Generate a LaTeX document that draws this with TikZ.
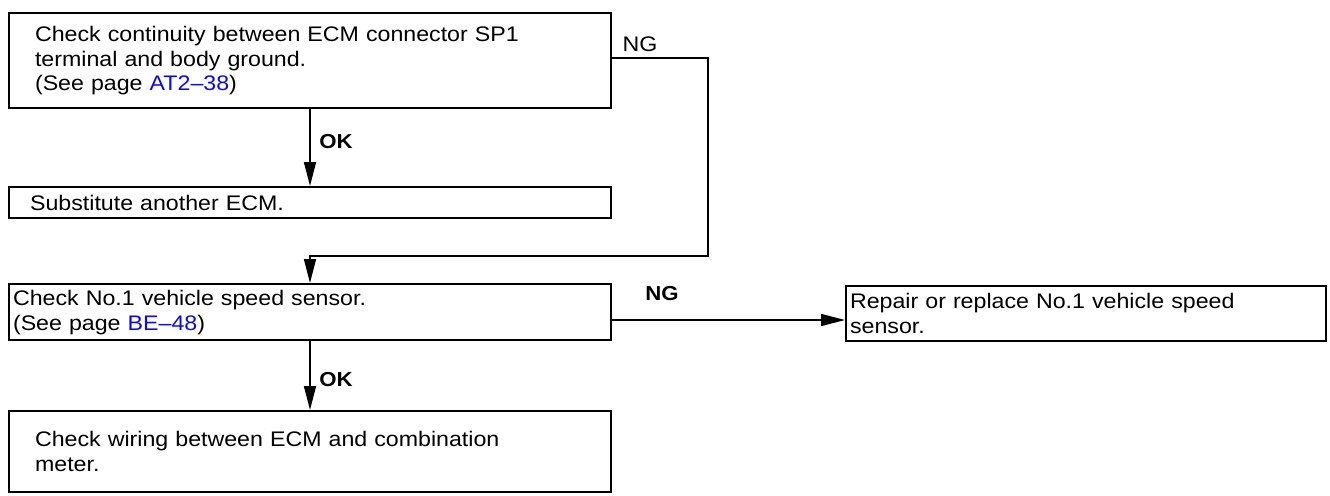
\documentclass[tikz,border=0pt]{standalone}
\usepackage{fontspec}
\setmainfont{Liberation Sans}[FakeStretch=1.1]
\usetikzlibrary{arrows.meta}
\definecolor{linkblue}{RGB}{10,10,240}
\newcommand{\seepage}[1]{\textcolor{linkblue}{#1}}
\begin{document}
\begin{tikzpicture}[x=0.02cm, y=-0.02cm,
  stepbox/.style={draw, line width=1.2pt, rectangle, anchor=north west,
    align=left, font=\fontsize{12}{14.2}\selectfont},
  flow/.style={line width=0.9pt, -{Triangle[length=0.48cm,width=0.24cm]}},
  verdict/.style={font=\fontsize{11.5}{13}\selectfont\bfseries},
  plain/.style={font=\fontsize{12}{14}\selectfont}]
\useasboundingbox (0,0) rectangle (1330,495);
% boxes
\node[stepbox, minimum height=1.9cm, inner xsep=0.52cm, text width=11cm] (check) at (8,12)
  {Check continuity between ECM connector SP1\\terminal and body ground.\\(See page \seepage{AT2--38})};
\node[stepbox, minimum height=0.62cm, inner xsep=0.42cm, text width=11.2cm] (subst) at (8,186)
  {Substitute another ECM.};
\node[stepbox, minimum height=1.1cm, inner xsep=0.08cm, text width=11.88cm] (sensor) at (8,283)
  {Check No.1 vehicle speed sensor.\\(See page \seepage{BE--48})};
\node[stepbox, minimum height=1.1cm, inner xsep=0.08cm, text width=9.44cm] (repair) at (845,285)
  {Repair or replace No.1 vehicle speed\\sensor.};
\node[stepbox, minimum height=1.62cm, inner xsep=0.52cm, text width=11cm] (wiring) at (8,410)
  {Check wiring between ECM and combination\\meter.};
% labels
\node[plain] (ngtop) at (640,44) {NG};
\node[verdict] (oktop) at (336,142) {OK};
\node[verdict] (ngmid) at (662,294) {NG};
\node[verdict] (okbot) at (336,380) {OK};
% connectors
\coordinate (ngA) at (708,58);
\coordinate (ngB) at (708,256);
\coordinate (ngC) at (760,320);
\draw[flow] (check.south) -- (subst.north);
\draw[flow] (check.east |- ngA) -- (ngA) -- (ngB) -- (ngB -| sensor.north) -- (sensor.north);
\draw[flow] (sensor.east |- ngC) -- (repair.west |- ngC);
\draw[flow] (sensor.south) -- (wiring.north);
\end{tikzpicture}
\end{document}
